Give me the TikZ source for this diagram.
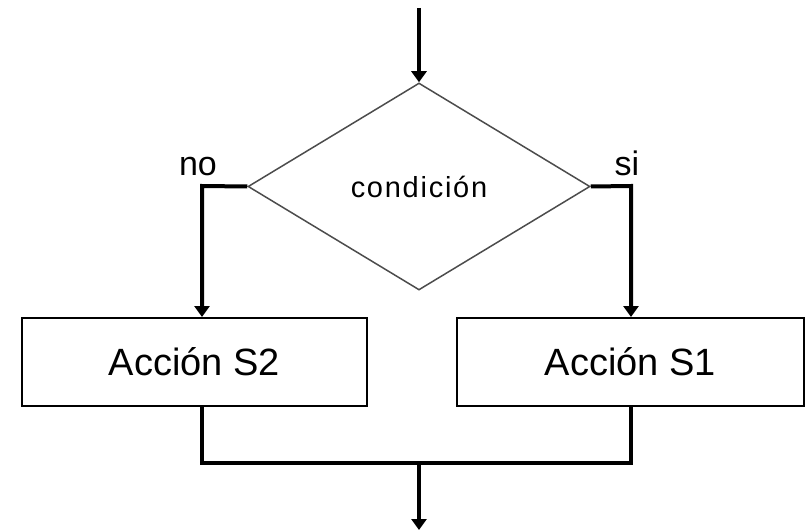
\documentclass[tikz,border=0pt]{standalone}
\usepackage{fontspec}
\setmainfont{Liberation Sans}
\newfontfamily\condfont[LetterSpace=6]{Liberation Sans}
\usetikzlibrary{shapes.geometric,arrows.meta}
\begin{document}
\begin{tikzpicture}[x=1pt,y=-1pt,
  box/.style={draw=black,line width=2pt,rectangle,minimum height=88pt,inner sep=0pt,font=\fontsize{38}{40}\selectfont},
  cond/.style={draw=black!70,line width=1.5pt,diamond,minimum width=342pt,minimum height=207pt,inner sep=0pt},
  conn/.style={line width=4pt,line join=miter},
  arr/.style={conn,-{Triangle[length=11pt,width=15pt]}},
  lbl/.style={font=\fontsize{34}{36}\selectfont,inner sep=0pt}]
\useasboundingbox (0,0) rectangle (806,532);
\node[cond] (c) at (419,186.5) {\condfont\fontsize{29}{31}\selectfont condición};
\node[box,minimum width=345pt] (s2) at (194.5,362) {Acción S2};
\node[box,minimum width=347pt] (s1) at (630.5,362) {Acción S1};
\coordinate (start) at (419,8);
\coordinate (nl) at (202,186);
\coordinate (sr) at (631,186);
\coordinate (bl) at (202,463);
\coordinate (br) at (631,463);
\coordinate (bm) at (419,463);
\coordinate (end) at (419,530);
\node[lbl] (no) at (198,167) {no};
\node[lbl] (si) at (627,163) {si};
\draw[arr] (start) -- (c.north);
\draw[arr] (c.west) -- (nl) -- (s2.north -| nl);
\draw[arr] (c.east) -- (sr) -- (s1.north -| sr);
\draw[conn] (s2.south -| bl) -- (bl) -- (br) -- (s1.south -| br);
\draw[arr] (bm) -- (end);
\end{tikzpicture}
\end{document}
